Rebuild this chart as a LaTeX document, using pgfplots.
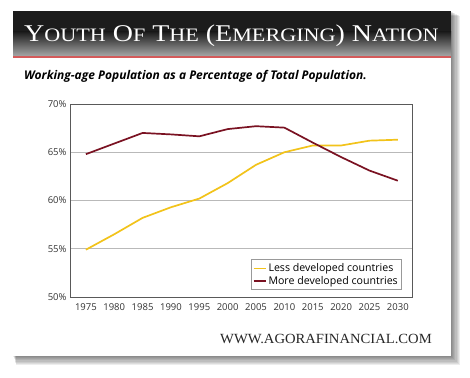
\documentclass[border=0pt]{standalone}
\usepackage{fontspec}
\setmainfont{Liberation Serif}
\newfontfamily\sans{Open Sans}
\usepackage{pgfplots}
\pgfplotsset{compat=1.18}
\definecolor{ldc}{HTML}{F2C31A}
\definecolor{mdc}{HTML}{7A1222}
\definecolor{redline}{HTML}{D45A5A}
\definecolor{hdr}{HTML}{1C1C1C}
\begin{document}
\begin{tikzpicture}[x=1pt,y=1pt]
\useasboundingbox (0,0) rectangle (470,377);
\fill[white] (0,0) rectangle (470,377);
% shadow
\foreach \i in {1,...,8}{
  \fill[black,opacity=0.07] (13+\i*0.4,21-\i*1.1) rectangle (451+\i*1.1,366-\i*0.6);
}
\fill[white] (13,21) rectangle (451,366);
% header
\fill[hdr] (13,345) rectangle (451,366);
\shade[top color=hdr,bottom color=black!35] (13,321) rectangle (451,345.2);
\fill[redline] (13,319) rectangle (451,321.2);
\node[anchor=base west,text=white,inner sep=0pt] at (24,335)
 {\scalebox{1.165}[1]{\fontsize{24}{24}\selectfont Y{\fontsize{19}{19}\selectfont OUTH} O{\fontsize{19}{19}\selectfont F} T{\fontsize{19}{19}\selectfont HE} (E{\fontsize{19}{19}\selectfont MERGING}) N{\fontsize{19}{19}\selectfont ATION}}};
\node[anchor=base west,inner sep=0pt] at (24,297)
 {\sans\bfseries\itshape\fontsize{12}{12}\selectfont Working-age Population as a Percentage of Total Population.};
\node[anchor=base east,inner sep=0pt,text=black!85] at (432,34)
 {\scalebox{1.045}[1]{\fontsize{14}{14}\selectfont WWW.AGORAFINANCIAL.COM}};
\begin{axis}[
  at={(70pt,80pt)}, anchor=south west,
  width=342pt, height=193pt, scale only axis,
  xmin=1972.2, xmax=2032.5, ymin=50, ymax=70,
  xtick={1975,1980,...,2030}, ytick={50,55,...,70},
  x tick label style={/pgf/number format/1000 sep={}},
  yticklabel={\pgfmathprintnumber{\tick}\%},
  /pgf/number format/assume math mode=true,
  ticklabel style={font=\sans\fontsize{9.5}{9.5}\selectfont, text=black!80},
  xticklabel style={yshift=-3pt},
  major tick length=0pt,
  ymajorgrids, grid style={gray!55, line width=0.8pt},
  axis line style={gray!70!black, line width=0.9pt},
  legend style={at={(0.971,0.036)}, anchor=south east, draw=gray!80, line width=0.6pt,
    font=\sans\fontsize{10.6}{11.5}\selectfont, inner sep=2pt, row sep=-1pt},
  legend cell align=left,
  legend image code/.code={\draw[#1,line width=1.6pt] (0pt,0pt) -- (12pt,0pt);},
]
\addplot[ldc, line width=1.7pt] coordinates {
 (1975,54.9) (1980,56.5) (1985,58.2) (1990,59.3) (1995,60.2) (2000,61.8)
 (2005,63.7) (2010,65.0) (2015,65.7) (2020,65.7) (2025,66.2) (2030,66.3)};
\addlegendentry{Less developed countries}
\addplot[mdc, line width=1.7pt] coordinates {
 (1975,64.8) (1980,65.9) (1985,67.0) (1990,66.85) (1995,66.65) (2000,67.4)
 (2005,67.7) (2010,67.55) (2015,66.0) (2020,64.5) (2025,63.1) (2030,62.05)};
\addlegendentry{More developed countries}
\end{axis}
\end{tikzpicture}
\end{document}
